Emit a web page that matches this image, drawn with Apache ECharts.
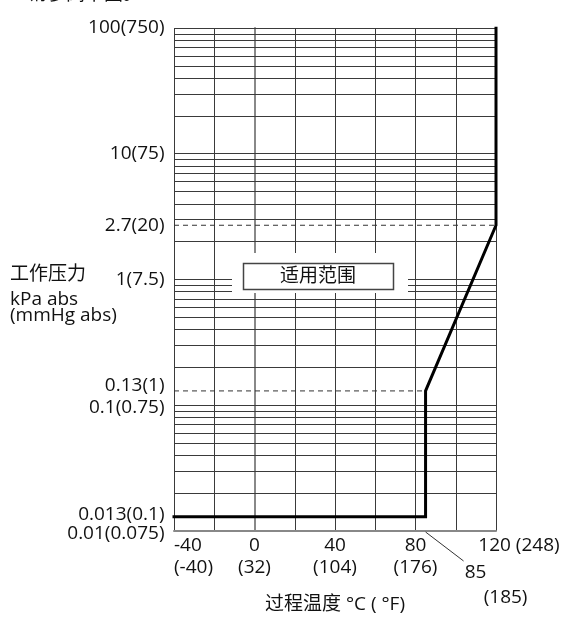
<!DOCTYPE html>
<html><head><meta charset="utf-8">
<script src="https://cdn.jsdelivr.net/npm/echarts@6/dist/echarts.min.js"></script>
<style>html,body{margin:0;padding:0;background:#fff}#c{width:564px;height:619px}</style>
</head><body><div id="c"></div>
<script>
// ---- data ----
const xTickValues = [-40, 0, 40, 80, 120];
const xTickLabels = ['-40\n(-40)', '0\n(32)', '40\n(104)', '80\n(176)', '120 (248)'];
const yTickValues = [100, 10, 2.7, 1, 0.13, 0.1, 0.013, 0.01];
const yTickLabels = ['100(750)', '10(75)', '2.7(20)', '1(7.5)', '0.13(1)', '0.1(0.75)', '0.013(0.1)', '0.01(0.075)'];
const gridLineValues = [0.02, 0.03, 0.04, 0.05, 0.06, 0.07, 0.08, 0.09, 0.1,
  0.2, 0.3, 0.4, 0.5, 0.6, 0.7, 0.8, 0.9, 1,
  2, 3, 4, 5, 6, 7, 8, 9, 10,
  20, 30, 40, 50, 60, 70, 80, 90, 100];
const rangeTemp = [-40, 85, 85, 120, 120];
const rangePressure = [0.013, 0.013, 0.13, 2.7, 100];
const dashTopTemp = [-40, 120];
const dashTopPressure = [2.7, 2.7];
const dashLowTemp = [-40, 85];
const dashLowPressure = [0.13, 0.13];
const markTempC = 85;
const markTempF = 185;
const rangeLabel = '适用范围';
const yTitle = ['工作压力', 'kPa abs', '(mmHg abs)'];
const xTitle = '过程温度 °C ( °F)';
const topNote = '请参阅下图。';

const FONT = "'Open Sans', 'Noto Sans CJK SC', sans-serif";
const FS = 19;
const TXT = '#111';

const chart = echarts.init(document.getElementById('c'), null, {renderer: 'canvas'});

const pair = (xs, ys) => xs.map((x, i) => [x, ys[i]]);
const labelOffsets = {0.13: [0, -5], 0.1: [0, 2], 0.013: [0, -2], 0.01: [0, 3]};

const option = {
  animation: false,
  backgroundColor: '#fff',
  grid: {left: 174, top: 28, right: 68, bottom: 86, containLabel: false},
  xAxis: {
    type: 'value', min: -40, max: 120, interval: 20,
    name: xTitle, nameLocation: 'middle', nameGap: 64,
    nameTextStyle: {fontFamily: FONT, fontSize: FS, color: TXT},
    axisLine: {show: true, lineStyle: {color: '#888', width: 2}},
    axisTick: {show: false},
    splitLine: {show: true, lineStyle: {color: '#3a3a3a', width: 1}},
    axisLabel: {
      show: true, margin: 4, fontFamily: FONT, fontSize: FS, color: TXT, lineHeight: 22,
      alignMinLabel: 'left', showMinLabel: true, showMaxLabel: true, hideOverlap: false,
      formatter: function (v) {
        const i = xTickValues.indexOf(v);
        if (i < 0) return '';
        if (v === 120) return '{r|' + xTickLabels[i] + '}';
        return xTickLabels[i];
      },
      rich: {r: {fontFamily: FONT, fontSize: FS, color: TXT, padding: [0, 0, 0, 46]}}
    }
  },
  yAxis: {
    type: 'log', logBase: 10, min: 0.01, max: 100,
    axisLine: {show: true, lineStyle: {color: '#888', width: 2}},
    axisTick: {show: false},
    axisLabel: {show: false},
    splitLine: {show: false}
  },
  series: [
    {
      type: 'line', data: [], silent: true, z: 1,
      markLine: {
        silent: true, symbol: 'none', animation: false,
        label: {show: false},
        lineStyle: {color: '#3a3a3a', width: 1, type: 'solid'},
        data: gridLineValues.map(v => ({yAxis: v}))
      }
    },
    {
      // y tick labels, placed through the axes at the left edge of the plot
      type: 'scatter', silent: true, clip: false, z: 2,
      symbolSize: 1, itemStyle: {color: 'rgba(0,0,0,0)'},
      data: yTickValues.map((v, i) => ({
        value: [-40, v],
        label: {
          show: true, position: 'left', distance: 9,
          formatter: yTickLabels[i],
          fontFamily: FONT, fontSize: FS, color: TXT, opacity: 1,
          offset: labelOffsets[v] || [0, 0]
        }
      }))
    },
    {
      type: 'line', data: pair(dashTopTemp, dashTopPressure), symbol: 'none', silent: true, z: 3,
      lineStyle: {color: '#333', width: 1, type: [5, 4]}
    },
    {
      type: 'line', data: pair(dashLowTemp, dashLowPressure), symbol: 'none', silent: true, z: 3,
      lineStyle: {color: '#333', width: 1, type: [5, 4]}
    },
    {
      type: 'line', data: pair(rangeTemp, rangePressure), symbol: 'none', silent: true, z: 5,
      lineStyle: {color: '#000', width: 3, cap: 'square', join: 'miter'}
    }
  ]
};
chart.setOption(option);

const p = chart.convertToPixel({xAxisIndex: 0, yAxisIndex: 0}, [markTempC, 0.01]);

chart.setOption({
  graphic: [
    {type: 'rect', z: 100, shape: {x: 232, y: 253, width: 176, height: 40}, style: {fill: '#fff'}},
    {type: 'rect', z: 101, shape: {x: 243.5, y: 263.5, width: 150, height: 26}, style: {fill: '#fff', stroke: '#444', lineWidth: 1.5}},
    {type: 'text', z: 102, x: 318, y: 277, style: {text: rangeLabel, font: FS + 'px ' + FONT, fill: TXT, textAlign: 'center', textVerticalAlign: 'middle'}},
    {type: 'line', z: 100, shape: {x1: p[0], y1: p[1] + 1, x2: p[0] + 38, y2: p[1] + 30}, style: {stroke: '#333', lineWidth: 1}},
    {type: 'text', z: 100, x: p[0] + 50, y: p[1] + 42, style: {text: String(markTempC), font: FS + 'px ' + FONT, fill: TXT, textAlign: 'center', textVerticalAlign: 'middle'}},
    {type: 'text', z: 100, x: p[0] + 80, y: p[1] + 67, style: {text: '(' + markTempF + ')', font: FS + 'px ' + FONT, fill: TXT, textAlign: 'center', textVerticalAlign: 'middle'}},
    {type: 'text', z: 100, x: 10, y: 275, style: {text: yTitle[0], font: FS + 'px ' + FONT, fill: TXT, textAlign: 'left', textVerticalAlign: 'middle'}},
    {type: 'text', z: 100, x: 10, y: 300, style: {text: yTitle[1], font: FS + 'px ' + FONT, fill: TXT, textAlign: 'left', textVerticalAlign: 'middle'}},
    {type: 'text', z: 100, x: 10, y: 316, style: {text: yTitle[2], font: FS + 'px ' + FONT, fill: TXT, textAlign: 'left', textVerticalAlign: 'middle'}},
    {type: 'text', z: 100, x: 28, y: 4, style: {text: topNote, font: FS + 'px ' + FONT, fill: TXT, textAlign: 'left', textVerticalAlign: 'bottom'}}
  ]
});
</script></body></html>
